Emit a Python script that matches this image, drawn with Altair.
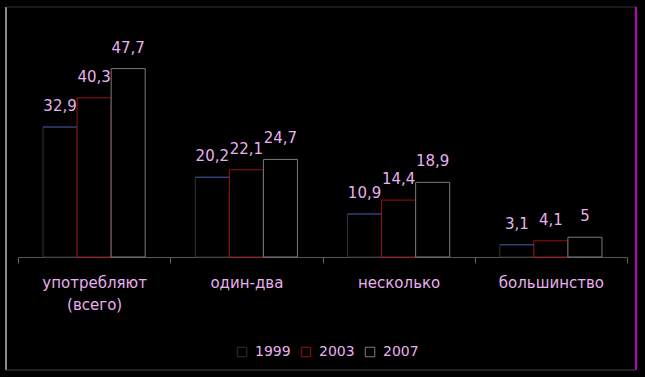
import altair as alt
import pandas as pd

categories = ["употребляют|(всего)", "один-два", "несколько", "большинство"]
years = ["1999", "2003", "2007"]
v1999 = [32.9, 20.2, 10.9, 3.1]
v2003 = [40.3, 22.1, 14.4, 4.1]
v2007 = [47.7, 24.7, 18.9, 5]

rows = []
for yr, vals in zip(years, [v1999, v2003, v2007]):
    for c, v in zip(categories, vals):
        rows.append({"cat": c, "year": yr, "value": v})
df = pd.DataFrame(rows)

TXT = "#e8b0ee"
FONT = "DejaVu Sans"

x_enc = alt.X("cat:N", sort=categories,
              scale=alt.Scale(paddingInner=0, paddingOuter=0),
              axis=alt.Axis(title=None, labelAngle=0, domainColor="#555555",
                            tickColor="#666666", tickSize=6, tickBand="extent",
                            labelColor=TXT, labelFontSize=15, labelFont=FONT,
                            labelPadding=12, labelLineHeight=22,
                            labelExpr="split(datum.label, '|')"))
xo = alt.XOffset("year:N", sort=years,
                 scale=alt.Scale(paddingInner=0, paddingOuter=0.735))
y_enc = alt.Y("value:Q", scale=alt.Scale(domain=[0, 60]), axis=None)

base = alt.Chart(df)

bars = base.mark_bar(strokeWidth=1, fill="black").encode(
    x=x_enc, xOffset=xo, y=y_enc,
    stroke=alt.Stroke("year:N", sort=years,
                      scale=alt.Scale(domain=years, range=["#333333", "#9a1010", "#7a7a7a"]),
                      legend=alt.Legend(title=None, orient="none", legendX=217, legendY=325,
                                        direction="horizontal", symbolType="square",
                                        symbolSize=90, symbolFillColor="black",
                                        symbolStrokeColor="#c050c0",
                                        symbolStrokeWidth=1, labelColor=TXT,
                                        labelFontSize=14, labelFont=FONT, labelOffset=6,
                                        columnPadding=8, padding=0)),
)

tops = base.transform_filter("datum.year == '1999'").mark_tick(
    thickness=1, size=34, color="#3b5fd0").encode(
    x=alt.X("cat:N", sort=categories), xOffset=xo, y=y_enc)

labels = base.transform_calculate(
    lbl="replace(toString(datum.value), '.', ',')").mark_text(
    dy=-21, color=TXT, fontSize=15, font=FONT).encode(
    x=alt.X("cat:N", sort=categories), xOffset=xo, y=y_enc, text="lbl:N")

one = pd.DataFrame({"a": [0]})
frame_left = alt.Chart(one).mark_rule(color="#8a8a8a", strokeWidth=2).encode(
    x=alt.value(-12), y=alt.value(-13), y2=alt.value(350))
frame_top = alt.Chart(one).mark_rule(color="#333333").encode(
    x=alt.value(-12), x2=alt.value(618), y=alt.value(-13))
frame_right = alt.Chart(one).mark_rule(color="#ff00ff", strokeWidth=1.5).encode(
    x=alt.value(618), y=alt.value(-13), y2=alt.value(350))
frame_bottom = alt.Chart(one).mark_rule(color="#444444").encode(
    x=alt.value(-12), x2=alt.value(618), y=alt.value(350))

chart = alt.layer(bars, tops, labels, frame_left, frame_top, frame_right, frame_bottom).properties(
    width=609, height=237,
    background="black",
    padding={"left": 18, "top": 20, "right": 18, "bottom": 120},
    autosize=alt.AutoSizeParams(type="none"),
).configure_view(stroke=None)

chart.save("out.html", embed_options={"renderer": "svg", "actions": False})
